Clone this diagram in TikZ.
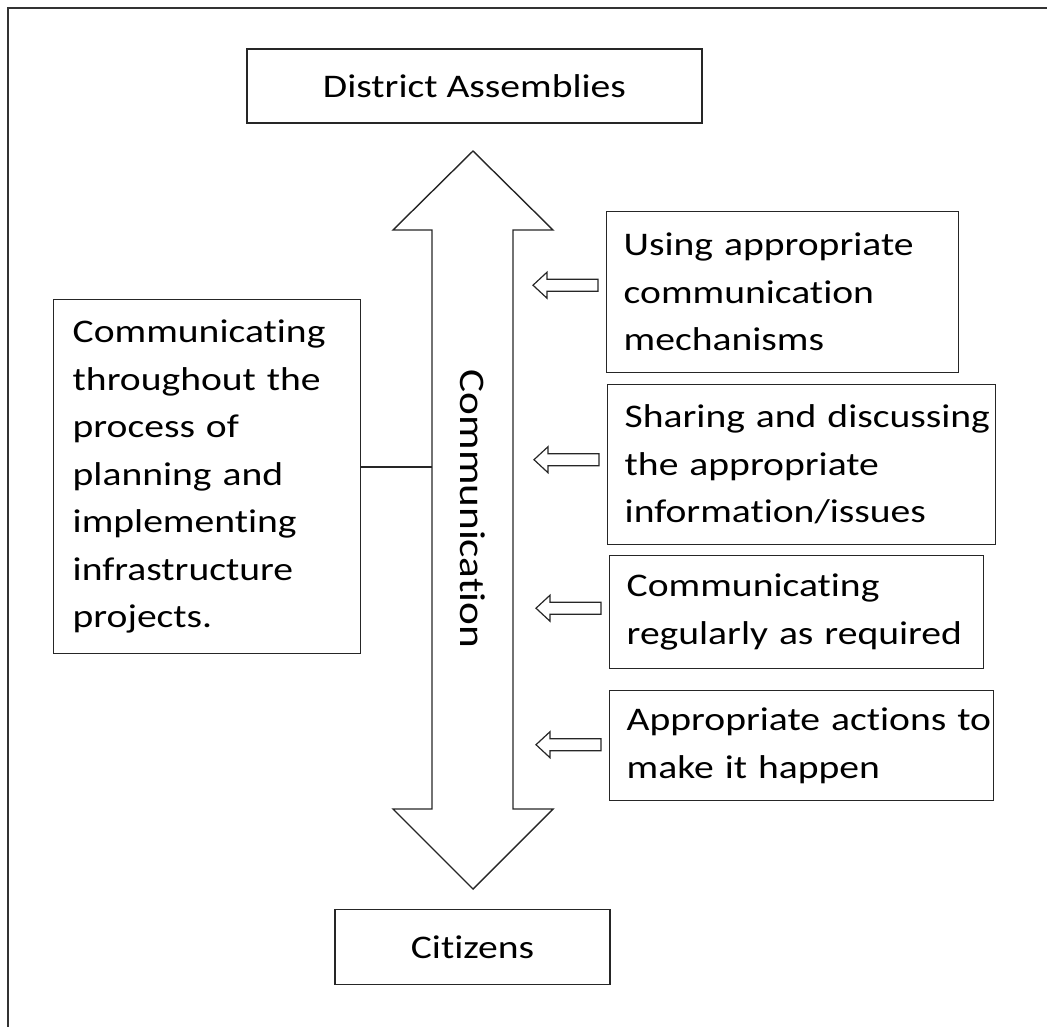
\documentclass[tikz,border=0pt]{standalone}
\usepackage{fontspec}
\setmainfont{Carlito}[FakeStretch=1.2, Ligatures=NoCommon]

\begin{document}
\begin{tikzpicture}[
  x=1pt, y=-1pt,
  every node/.style={inner sep=0pt},
  outline/.style={draw=black!85, line width=1.4pt},
  box/.style={outline, align=left, anchor=north west, inner xsep=17pt, font=\fontsize{33}{47.5}\selectfont},
  title/.style={outline, font=\fontsize{33}{40}\selectfont},
  hollow/.pic={\draw[outline, line width=1.2pt] (0,-6) -- (-51,-6) -- (-51,-13) -- (-65,0) -- (-51,13) -- (-51,6) -- (0,6) -- cycle;},
  ]
  \useasboundingbox (0,0) rectangle (1047,1026);
  \draw[line width=2pt, black!80] (8,1040) -- (8,8) -- (1060,8);

  \node[title, minimum width=455, minimum height=74] (dist) at (474.5,86) {District Assemblies};
  \node[title, minimum width=275, minimum height=75] (citz) at (472.5,947) {Citizens};

  % two-headed communication arrow
  \draw[outline] (473,151) -- (553,230) -- (513,230) -- (513,809) -- (553,809) -- (473,889)
    -- (393,809) -- (432,809) -- (432,230) -- (393,230) -- cycle;
  \node[rotate=-90, font=\fontsize{36}{40}\selectfont] (comm) at (473,509) {Communication};
  \coordinate (shaft) at (432,467);

  \node[box, inner xsep=19pt, text width=269, minimum height=354] (plan) at (53,299)
    {Communicating\\throughout the\\process of\\planning and\\implementing\\infrastructure\\projects.};
  \draw[outline] (plan.east |- shaft) -- (shaft);

  \node[box, text width=318, minimum height=161] (use) at (606,211) {Using appropriate\\communication\\mechanisms};
  \node[box, text width=354, minimum height=160] (share) at (607,384) {\mbox{Sharing and discussing}\\the appropriate\\information/issues};
  \node[box, text width=340, minimum height=113] (regular) at (609,555) {Communicating\\\mbox{regularly as required}};
  \node[box, text width=350, minimum height=110] (act) at (609,690) {\mbox{Appropriate actions to}\\make it happen};

  \foreach \b/\dy in {use/-7, share/-5, regular/-4, act/-1}
    \pic at ([shift={(-8,\dy)}]\b.west) {hollow};
\end{tikzpicture}
\end{document}
